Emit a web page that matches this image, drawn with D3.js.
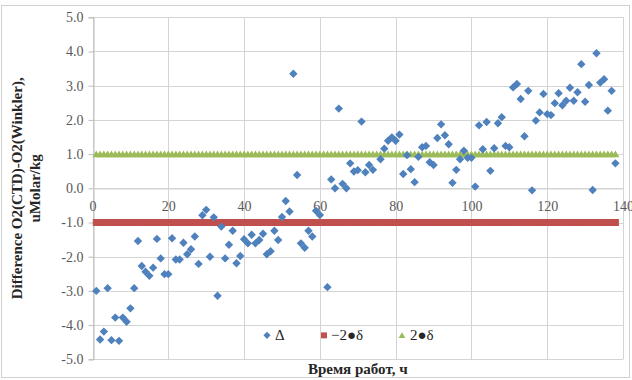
<!DOCTYPE html>
<html>
<head>
<meta charset="utf-8">
<script src="https://cdn.jsdelivr.net/npm/d3@7"></script>
<style>
  html, body { margin: 0; padding: 0; background: #fff; }
  svg { display: block; }
  svg text { font-family: "Liberation Serif", "DejaVu Serif", serif; }
</style>
</head>
<body>
<svg id="chart" width="632" height="380"></svg>
<script>
// Difference between CTD oxygen and Winkler titration, per working hour
const delta = [
  -3.00, -4.42, -4.19, -2.92, -4.44, -3.78, -4.46, -3.78, -3.90, -3.51,
  -2.92, -1.54, -2.27, -2.44, -2.56, -2.32, -1.48, -2.05, -2.51, -2.51,
  -1.46, -2.08, -2.08, -1.59, -1.93, -1.78, -1.41, -2.21, -0.79, -0.63,
  -2.00, -0.85, -3.14, -1.12, -2.05, -1.65, -1.24, -2.19, -1.98, -1.49,
  -1.61, -1.36, -1.61, -1.51, -1.33, -1.93, -1.84, -1.24, -1.51, -0.84,
  -0.37, -0.68, 3.35, 0.39, -1.61, -1.74, -1.24, -1.41, -0.66, -0.78,
  null, -2.89, 0.26, 0.00, 2.33, 0.13, 0.00, 0.73, 0.49, 0.53,
  1.95, 0.47, 0.68, 0.54, null, 0.85, 1.16, 1.39, 1.49, 1.39,
  1.57, 0.42, 0.97, 0.56, 0.18, 0.92, 1.20, 1.24, 0.76, 0.68,
  1.47, 1.87, 1.55, 1.29, 0.16, 0.54, 0.85, 1.10, 0.89, 0.89,
  0.05, 1.84, 1.14, 1.94, 0.51, 1.17, 1.90, 2.08, 1.24, 1.20,
  2.95, 3.05, 2.61, 1.52, 2.85, -0.06, 1.98, 2.22, 2.76, 2.17,
  2.14, 2.49, 2.78, 2.43, 2.56, 2.94, 2.56, 2.81, 3.63, 2.53,
  3.02, -0.05, 3.95, 3.09, 3.19, 2.27, 2.85, 0.73
];
// sample hours: one sample per hour, starting at hour 1
const hours = delta.map((_, i) => i + 1);

// control limits (±2δ)
const lowerLimit = -1.0;
const upperLimit = 1.0;

const xTicks = [0, 20, 40, 60, 80, 100, 120, 140];
const yTicks = [-5, -4, -3, -2, -1, 0, 1, 2, 3, 4, 5];

const legendLabels = ["Δ", "\u22122\u25CF\u03B4", "2\u25CF\u03B4"];
const yTitle = ["Difference O2(CTD)-O2(Winkler),", "uMolar/kg"];
const xTitle = "Время работ, ч";

const colors = { delta: "#4F81BD", lower: "#C0504D", upper: "#9BBB59" };

// marker outlines
const diamond = "M0,-4.2L4.2,0L0,4.2L-4.2,0Z";
const square = "M-3.5,-3.5L3.5,-3.5L3.5,3.5L-3.5,3.5Z";
const triangle = "M0,-3.6L4,3.2L-4,3.2Z";

const svg = d3.select("#chart");

// outer chart frame
svg.append("rect")
  .attr("x", 1.5).attr("y", 5.5).attr("width", 628).attr("height", 372)
  .attr("fill", "none").attr("stroke", "#D0D0D0");

const plot = { left: 92.5, right: 623, top: 17.3, bottom: 359.3 };

const x = d3.scaleLinear().domain([0, 140]).range([plot.left, plot.right]);
const y = d3.scaleLinear().domain([-5, 5]).range([plot.bottom, plot.top]);

// gridlines
const grid = svg.append("g");
grid.selectAll("line.h").data(yTicks).join("line")
  .attr("x1", plot.left).attr("x2", plot.right)
  .attr("y1", d => Math.round(y(d)) + 0.5).attr("y2", d => Math.round(y(d)) + 0.5)
  .attr("stroke", "#D4D4D4");
grid.selectAll("line.v").data(xTicks).join("line")
  .attr("y1", plot.top).attr("y2", plot.bottom)
  .attr("x1", d => Math.round(x(d)) + 0.5).attr("x2", d => Math.round(x(d)) + 0.5)
  .attr("stroke", "#D4D4D4");

// y axis
const yAxis = svg.append("g")
  .attr("transform", `translate(${Math.round(plot.left) + 0.5},0)`)
  .call(d3.axisLeft(y).tickValues(yTicks).tickFormat(d => d.toFixed(1)).tickSize(5).tickPadding(5));
yAxis.select(".domain").attr("stroke", "#BDBDBD");
yAxis.selectAll(".tick line").attr("stroke", "#BDBDBD");
yAxis.selectAll("text").style("font-size", "14px").style("fill", "#595959")
  .style("font-family", "'Liberation Serif', serif");

// x axis drawn through zero
const xAxis = svg.append("g")
  .attr("transform", `translate(0,${Math.round(y(0)) + 0.5})`)
  .call(d3.axisBottom(x).tickValues(xTicks).tickFormat(d3.format("d")).tickSize(0).tickPadding(13));
xAxis.select(".domain").attr("stroke", "#D4D4D4");
xAxis.selectAll("text").style("font-size", "14px").style("fill", "#595959")
  .style("font-family", "'Liberation Serif', serif");

// upper limit: green triangles
svg.append("g").selectAll("path").data(hours).join("path")
  .attr("d", triangle)
  .attr("transform", h => `translate(${x(h)},${y(upperLimit)})`)
  .attr("fill", colors.upper);

// lower limit: red squares
svg.append("g").selectAll("path").data(hours).join("path")
  .attr("d", square)
  .attr("transform", h => `translate(${x(h)},${y(lowerLimit)})`)
  .attr("fill", colors.lower);

// measured differences: blue diamonds
const points = hours.map((h, i) => ({ h, v: delta[i] })).filter(d => d.v !== null);
svg.append("g").selectAll("path").data(points).join("path")
  .attr("d", diamond)
  .attr("transform", d => `translate(${x(d.h)},${y(d.v)})`)
  .attr("fill", colors.delta);

// legend
const legend = svg.append("g").attr("transform", `translate(0,${y(-4.3)})`);
const legendItems = [
  { cx: 267, tx: 275, label: legendLabels[0], color: colors.delta, shape: diamond },
  { cx: 324, tx: 331, label: legendLabels[1], color: colors.lower, shape: square },
  { cx: 402, tx: 410, label: legendLabels[2], color: colors.upper, shape: triangle }
];
legend.selectAll("path").data(legendItems).join("path")
  .attr("d", d => d.shape)
  .attr("transform", d => `translate(${d.cx},0) scale(0.85)`)
  .attr("fill", d => d.color);
legend.selectAll("text").data(legendItems).join("text")
  .attr("x", d => d.tx).attr("y", 5)
  .style("font-size", "15px").style("fill", "#262626")
  .text(d => d.label);

// axis titles
svg.append("text")
  .attr("x", (plot.left + plot.right) / 2).attr("y", 374)
  .attr("text-anchor", "middle").style("font-size", "15px").style("font-weight", "bold")
  .style("fill", "#262626").text(xTitle);

const yt = svg.append("text")
  .attr("transform", `translate(22,${(plot.top + plot.bottom) / 2}) rotate(-90)`)
  .attr("text-anchor", "middle").style("font-size", "15px").style("font-weight", "bold")
  .style("fill", "#262626");
yt.selectAll("tspan").data(yTitle).join("tspan")
  .attr("x", 0).attr("dy", (d, i) => i === 0 ? 0 : 18)
  .text(d => d);
</script>
</body>
</html>
